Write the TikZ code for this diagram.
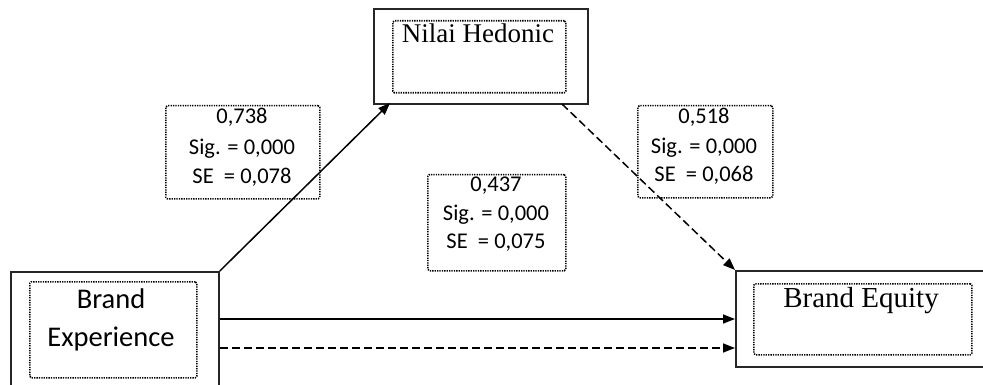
\documentclass[tikz,border=0pt]{standalone}
\usepackage{fontspec}
\setmainfont{Liberation Serif}
\newfontfamily\calfont{Carlito}
\usetikzlibrary{arrows.meta}
\begin{document}
\begin{tikzpicture}[x=1pt,y=-1pt,
  outerbox/.style={draw=black!85,line width=1.8pt,inner sep=0pt,anchor=north west},
  innerbox/.style={draw=black,line width=1.6pt,dash pattern=on 1.3pt off 1.1pt,rounded corners=1.5pt,inner sep=0pt,anchor=north west},
  labelbox/.style={draw=black,line width=1.5pt,dash pattern=on 1.3pt off 1.1pt,rounded corners=1.5pt,inner sep=0pt,anchor=north west},
  seriftext/.style={font=\fontsize{27}{30}\selectfont,anchor=base,inner sep=0pt},
  caltext/.style={font=\calfont\fontsize{28.5}{38}\selectfont,anchor=base,inner sep=0pt},
  numtext/.style={font=\calfont\fontsize{22.5}{29}\selectfont,anchor=base,inner sep=0pt},
  solidarrow/.style={line width=1.5pt,-{Triangle[length=12pt,width=9pt]}},
  dashedarrow/.style={line width=1.5pt,dash pattern=on 8pt off 4pt,-{Triangle[length=12pt,width=9pt]}}
]
\useasboundingbox (0,0) rectangle (983,385);
\clip (0,0) rectangle (983,385);
\fill[white] (0,0) rectangle (983,385);

% Nilai Hedonic
\node[outerbox,minimum width=214pt,minimum height=95pt] (nh) at (373,8) {};
\node[innerbox,minimum width=173pt,minimum height=72pt] (nhin) at (392,20) {};
\node[seriftext] (nht) at (478,43) {Nilai Hedonic};

% Brand Experience
\node[outerbox,minimum width=208pt,minimum height=130pt] (be) at (10,271) {};
\node[innerbox,minimum width=167pt,minimum height=96pt] (bein) at (29,281) {};
\node[caltext] (bet1) at (111,308) {Brand};
\node[caltext] (bet2) at (111,346) {Experience};

% Brand Equity
\node[outerbox,minimum width=260pt,minimum height=96pt] (beq) at (735,270) {};
\node[innerbox,minimum width=218pt,minimum height=71pt] (beqin) at (753,283) {};
\node[seriftext,font=\fontsize{29}{30}\selectfont] (beqt) at (861,307) {Brand Equity};

% Label boxes
\node[labelbox,minimum width=154pt,minimum height=93pt] (l1) at (165,105) {};
\node[numtext] at (242,124) {0,738};
\node[numtext] at (242,155) {Sig. = 0,000};
\node[numtext] at (242,183) {SE\ \ = 0,078};

\node[labelbox,minimum width=138pt,minimum height=96pt] (l2) at (427,174) {};
\node[numtext] at (496,192) {0,437};
\node[numtext] at (496,220) {Sig. = 0,000};
\node[numtext] at (496,248) {SE\ \ = 0,075};

\node[labelbox,minimum width=135pt,minimum height=92pt] (l3) at (637,105) {};
\node[numtext] at (704,124) {0,518};
\node[numtext] at (704,154) {Sig. = 0,000};
\node[numtext] at (704,182) {SE\ \ = 0,068};

% connectors
\coordinate (nhin1) at (390,103);
\coordinate (nhout1) at (562,104);
\draw[solidarrow] (be.north east) -- (nhin1);
\draw[dashedarrow] (nhout1) -- (beq.north west);
\draw[solidarrow] (be.east |- 0,319) -- (beq.west |- 0,319);
\draw[dashedarrow] (be.east |- 0,348) -- (beq.west |- 0,348);
\end{tikzpicture}
\end{document}
